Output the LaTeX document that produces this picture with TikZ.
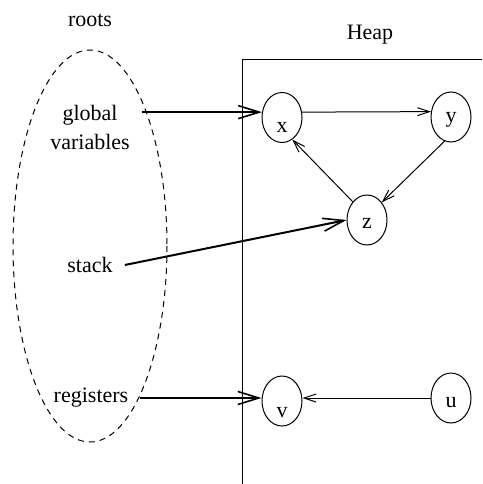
\documentclass[tikz,border=0pt]{standalone}
\usepackage{fontspec}
\setmainfont{Liberation Serif}
\usepackage{tikz}
\usetikzlibrary{arrows.meta}
\usetikzlibrary{shapes.geometric}

\begin{document}
\begin{tikzpicture}[x = 1pt, y = -1pt, every node/.style={font=\fontsize{22}{29}\selectfont},cell/.style={ellipse,draw,line width=1pt,minimum width=40pt,minimum height=50pt,inner sep=0pt,text depth=0pt},root/.style={inner xsep=12pt},rootedge/.style={line width=2pt,-{Straight Barb[length=21pt,width=13pt,line width=1.6pt]}},ptr/.style={line width=1pt,-{Straight Barb[length=12pt,width=8pt]}}]
	\useasboundingbox (0,0) rectangle (482,484);
	\draw[line width=1pt,dashed,dash pattern=on 6pt off 5pt] (90,246) ellipse [x radius=77,y radius=196];
	\draw[line width=1pt] (242,484) -- (242,60) -- (482,60);
	\node (roots) at (90,20) {roots};
	\node (heap) at (370,35) {Heap};
	\node[root,align=center] (gv) at (90,127) {global\\variables};
	\node[root] (stack) at (90,265) {stack};
	\node[root] (registers) at (91,398) {registers};
	\node[cell,text height=29pt] (x) at (282,117.5) {x};
	\node[cell,text height=10pt] (y) at (451,117) {y};
	\node[cell,text height=16pt] (z) at (367,220) {z};
	\node[cell,text height=32pt] (v) at (282,401) {v};
	\node[cell,text height=18pt] (u) at (451,398) {u};
	\draw[rootedge] (gv.east |- x.165) -- (x.165);
	\draw[rootedge] (stack.east) -- (z.180);
	\draw[rootedge] (registers.east) -- (v.west |- registers.east);
	\draw[ptr] (x.15) -- (y.165);
	\draw[ptr] (y.255) -- (z.50);
	\draw[ptr] (z.128) -- (x.295);
	\draw[ptr] (u.west) -- (v.east |- u.west);
\end{tikzpicture}
\end{document}
